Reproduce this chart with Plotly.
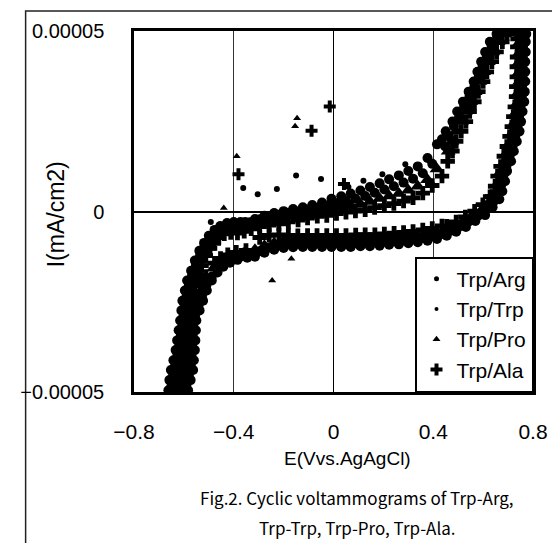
import plotly.graph_objects as go

SCALE = 1e-5  # current values below are read in units of 1e-5 mA/cm2

# ---------------- Trp/Arg (dense band) ----------------
arg_x = [-0.662, -0.658, -0.652, -0.642, -0.633, -0.627, -0.621, -0.615, -0.610, -0.606, -0.596, -0.587, -0.571, -0.556, -0.538, -0.519, -0.500, -0.477, -0.454, -0.427, -0.400, -0.373,
         -0.354, -0.315, -0.277, -0.238, -0.200, -0.162, -0.123, -0.085, -0.046, -0.008, 0.031, 0.069, 0.108, 0.146, 0.185, 0.223, 0.262, 0.300, 0.338, 0.377, 0.415,
         0.435, 0.450, 0.477, 0.496, 0.519, 0.542, 0.562, 0.577, 0.592, 0.608, 0.627, 0.654, 0.690, 0.730,
         0.773, 0.771, 0.771, 0.769, 0.769, 0.769, 0.767, 0.765, 0.758, 0.752, 0.746, 0.735, 0.723, 0.712, 0.696, 0.688, 0.677,
         0.665, 0.638, 0.608, 0.569, 0.531, 0.492,
         0.454, 0.415, 0.377, 0.338, 0.300, 0.262, 0.223, 0.185, 0.146, 0.108, 0.069, 0.031, -0.008, -0.046, -0.085, -0.123, -0.162, -0.200, -0.238, -0.277, -0.315,
         -0.346, -0.385, -0.415, -0.442, -0.465, -0.488, -0.508, -0.523, -0.537, -0.550, -0.552, -0.554, -0.556, -0.560, -0.563, -0.573, -0.583]
arg_y = [-4.95, -4.67, -4.39, -4.12, -3.84, -3.57, -3.29, -3.02, -2.74, -2.47, -2.19, -1.91, -1.64, -1.36, -1.09, -0.87, -0.67, -0.51, -0.40, -0.32, -0.29, -0.29,
         -0.29, -0.21, -0.12, -0.04, 0.01, 0.07, 0.12, 0.18, 0.25, 0.35, 0.42, 0.50, 0.58, 0.68, 0.78, 0.89, 1.00, 1.12, 1.25, 1.48, 1.86,
         2.00, 2.22, 2.49, 2.77, 3.04, 3.32, 3.60, 3.87, 4.15, 4.42, 4.70, 4.92, 5.00, 5.00,
         4.92, 4.70, 4.42, 4.15, 3.87, 3.60, 3.32, 3.04, 2.77, 2.49, 2.22, 1.94, 1.67, 1.39, 1.12, 0.84, 0.56,
         0.34, 0.12, -0.10, -0.26, -0.43, -0.56,
         -0.67, -0.76, -0.81, -0.85, -0.88, -0.91, -0.92, -0.95, -0.96, -0.96, -0.98, -0.98, -0.98, -0.98, -0.98, -0.98, -0.99, -1.01, -1.06, -1.14, -1.25,
         -1.28, -1.34, -1.42, -1.53, -1.69, -1.91, -2.19, -2.47, -2.74, -3.02, -3.29, -3.57, -3.84, -4.12, -4.39, -4.67, -4.95]
# Trp/Arg isolated points
arg_out_x = [-0.362, -0.304, -0.227, -0.150, -0.050, -0.492, 0.060, 0.120, 0.196, 0.288, 0.492]
arg_out_y = [0.65, 0.48, 0.62, 1.00, 0.90, -0.29, 0.68, 0.85, 1.03, 1.31, 2.77]

# ---------------- Trp/Trp (dense band) ----------------
trp_x = [-0.649, -0.643, -0.635, -0.626, -0.618, -0.612, -0.606, -0.601, -0.596, -0.589, -0.580, -0.567, -0.552, -0.535, -0.518, -0.500, -0.480, -0.457, -0.430, -0.402, -0.375, -0.335,
         -0.296, -0.258, -0.219, -0.181, -0.142, -0.104, -0.065, -0.027, 0.012, 0.050, 0.088, 0.127, 0.165, 0.204, 0.242, 0.281, 0.319, 0.358, 0.396,
         0.448, 0.463, 0.483, 0.504, 0.524, 0.545, 0.565, 0.583, 0.598, 0.615, 0.634, 0.656, 0.710,
         0.761, 0.760, 0.759, 0.758, 0.758, 0.756, 0.755, 0.750, 0.744, 0.738, 0.729, 0.718, 0.706, 0.693, 0.681, 0.671, 0.659,
         0.644, 0.615, 0.582, 0.545, 0.508, 0.470,
         0.435, 0.396, 0.358, 0.319, 0.281, 0.243, 0.204, 0.166, 0.127, 0.089, 0.050, 0.012, -0.027, -0.066, -0.104, -0.143, -0.181, -0.219, -0.258, -0.296,
         -0.335, -0.374, -0.408, -0.437, -0.461, -0.488, -0.510, -0.527, -0.541, -0.555, -0.563, -0.565, -0.567, -0.570, -0.573, -0.580, -0.590, -0.595]
trp_y = [-4.81, -4.53, -4.26, -3.98, -3.70, -3.43, -3.15, -2.88, -2.60, -2.33, -2.05, -1.77, -1.50, -1.22, -0.98, -0.82, -0.64, -0.51, -0.43, -0.37, -0.33, -0.30,
         -0.215, -0.145, -0.09, -0.045, 0.00, 0.055, 0.10, 0.16, 0.23, 0.29, 0.35, 0.43, 0.52, 0.61, 0.70, 0.80, 0.91, 1.06, 1.32,
         1.80, 2.08, 2.36, 2.63, 2.91, 3.18, 3.46, 3.73, 4.01, 4.28, 4.56, 4.81, 4.97,
         4.78, 4.56, 4.28, 4.01, 3.73, 3.46, 3.18, 2.90, 2.63, 2.35, 2.08, 1.80, 1.53, 1.25, 0.98, 0.70, 0.42,
         0.29, 0.07, -0.11, -0.27, -0.41, -0.53,
         -0.62, -0.69, -0.73, -0.77, -0.80, -0.82, -0.84, -0.86, -0.86, -0.87, -0.88, -0.88, -0.88, -0.88, -0.88, -0.89, -0.90, -0.94, -1.00, -1.10,
         -1.20, -1.25, -1.32, -1.42, -1.55, -1.80, -2.05, -2.33, -2.60, -2.88, -3.15, -3.43, -3.70, -3.98, -4.26, -4.53, -4.81, -5.00]

# ---------------- Trp/Pro (dense band) ----------------
pro_x = [-0.639, -0.635, -0.629, -0.619, -0.610, -0.604, -0.598, -0.592, -0.587, -0.583, -0.573, -0.564, -0.548, -0.533, -0.515, -0.503, -0.484, -0.461, -0.438, -0.411, -0.384, -0.357,
         -0.315, -0.277, -0.238, -0.200, -0.162, -0.123, -0.085, -0.046, -0.008, 0.031, 0.069, 0.108, 0.146, 0.185, 0.223, 0.262, 0.300, 0.338, 0.377, 0.415,
         0.460, 0.475, 0.491, 0.513, 0.529, 0.550, 0.568, 0.587, 0.602, 0.621, 0.639, 0.660, 0.682, 0.740,
         0.750, 0.748, 0.748, 0.746, 0.746, 0.746, 0.744, 0.742, 0.735, 0.729, 0.723, 0.712, 0.700, 0.689, 0.673, 0.665, 0.654,
         0.649, 0.622, 0.592, 0.553, 0.515, 0.476,
         0.454, 0.415, 0.377, 0.338, 0.300, 0.262, 0.223, 0.185, 0.146, 0.108, 0.069, 0.031, -0.008, -0.046, -0.085, -0.123, -0.162, -0.200, -0.238, -0.277, -0.315,
         -0.362, -0.401, -0.431, -0.458, -0.481, -0.511, -0.531, -0.546, -0.560, -0.573, -0.575, -0.577, -0.579, -0.583, -0.586, -0.596, -0.606]
pro_y = [-4.95, -4.67, -4.39, -4.12, -3.84, -3.57, -3.29, -3.02, -2.74, -2.47, -2.19, -1.91, -1.64, -1.36, -1.09, -0.98, -0.78, -0.62, -0.51, -0.43, -0.40, -0.37,
         -0.30, -0.26, -0.22, -0.17, -0.12, -0.08, -0.03, 0.02, 0.07, 0.11, 0.16, 0.21, 0.28, 0.36, 0.43, 0.50, 0.59, 0.70, 0.88, 1.18,
         1.67, 1.94, 2.22, 2.49, 2.77, 3.04, 3.32, 3.60, 3.87, 4.15, 4.42, 4.70, 4.92, 5.00,
         4.92, 4.70, 4.42, 4.15, 3.87, 3.60, 3.32, 3.04, 2.77, 2.49, 2.22, 1.94, 1.67, 1.39, 1.12, 0.84, 0.56,
         0.46, 0.24, 0.02, -0.14, -0.31, -0.44,
         -0.48, -0.57, -0.62, -0.66, -0.69, -0.72, -0.73, -0.76, -0.77, -0.77, -0.79, -0.79, -0.79, -0.79, -0.79, -0.79, -0.80, -0.82, -0.87, -0.95, -1.06,
         -1.16, -1.22, -1.30, -1.41, -1.57, -1.91, -2.19, -2.47, -2.74, -3.02, -3.29, -3.57, -3.84, -4.12, -4.39, -4.67, -4.95]
# Trp/Pro isolated points
pro_out_x = [-0.388, -0.146, -0.154, -0.440, -0.169, -0.246]
pro_out_y = [1.53, 2.58, 2.36, 0.10, -1.31, -1.91]

# ---------------- Trp/Ala (dense band) ----------------
ala_x = [-0.625, -0.620, -0.612, -0.603, -0.595, -0.589, -0.583, -0.578, -0.573, -0.566, -0.557, -0.544, -0.529, -0.512, -0.495, -0.480, -0.460, -0.438, -0.412, -0.385, -0.358, -0.330,
         -0.296, -0.258, -0.219, -0.181, -0.142, -0.104, -0.065, -0.027, 0.012, 0.050, 0.088, 0.127, 0.165, 0.204, 0.242, 0.281, 0.319, 0.358, 0.396, 0.435,
         0.458, 0.477, 0.492, 0.512, 0.531, 0.546, 0.565, 0.581, 0.600, 0.615, 0.635, 0.654, 0.677, 0.696,
         0.738, 0.737, 0.736, 0.735, 0.735, 0.733, 0.732, 0.727, 0.721, 0.715, 0.706, 0.695, 0.683, 0.670, 0.658, 0.648, 0.636,
         0.628, 0.599, 0.566, 0.529, 0.492, 0.454,
         0.435, 0.396, 0.358, 0.319, 0.281, 0.243, 0.204, 0.166, 0.127, 0.089, 0.050, 0.012, -0.027, -0.066, -0.104, -0.143, -0.181, -0.219, -0.258, -0.296,
         -0.351, -0.390, -0.424, -0.453, -0.477, -0.512, -0.534, -0.551, -0.565, -0.579, -0.587, -0.589, -0.591, -0.594, -0.597, -0.603, -0.610]
ala_y = [-4.81, -4.53, -4.26, -3.98, -3.70, -3.43, -3.15, -2.88, -2.60, -2.33, -2.05, -1.77, -1.50, -1.22, -1.02, -0.88, -0.72, -0.62, -0.58, -0.60, -0.55, -0.48,
         -0.42, -0.38, -0.34, -0.29, -0.24, -0.18, -0.135, -0.11, -0.06, -0.02, 0.01, 0.05, 0.11, 0.165, 0.22, 0.29, 0.38, 0.51, 0.72, 0.98,
         1.39, 1.67, 1.94, 2.22, 2.49, 2.77, 3.04, 3.32, 3.60, 3.87, 4.15, 4.42, 4.70, 4.92,
         4.78, 4.56, 4.28, 4.01, 3.73, 3.46, 3.18, 2.90, 2.63, 2.35, 2.08, 1.80, 1.53, 1.25, 0.98, 0.70, 0.42,
         0.41, 0.19, 0.01, -0.15, -0.29, -0.41,
         -0.40, -0.47, -0.51, -0.55, -0.58, -0.60, -0.62, -0.64, -0.64, -0.65, -0.66, -0.66, -0.66, -0.66, -0.66, -0.67, -0.66, -0.65, -0.66, -0.72,
         -1.08, -1.13, -1.20, -1.30, -1.43, -1.80, -2.05, -2.33, -2.60, -2.88, -3.15, -3.43, -3.70, -3.98, -4.26, -4.53, -4.81]
# Trp/Ala isolated points
ala_out_x = [-0.015, -0.088, -0.381, 0.042]
ala_out_y = [2.91, 2.24, 1.03, 0.76]

# ---------------- axes / labels ----------------
x_tick_vals = [-0.8, -0.4, 0, 0.4, 0.8]
x_tick_text = ["\u22120.8", "\u22120.4", "0", "0.4", "0.8"]
y_tick_vals = [-5e-5, 0, 5e-5]
y_tick_text = ["\u22120.00005", "0", "0.00005"]
series_names = ["Trp/Arg", "Trp/Trp", "Trp/Pro", "Trp/Ala"]
caption_lines = ["Fig.2. Cyclic voltammograms of Trp-Arg,", "Trp-Trp, Trp-Pro, Trp-Ala."]

symbols = ["circle", "circle", "triangle-up", "cross"]
band_sizes = [10, 10, 13, 12]
out_sizes = [6, 4, 7, 10]
legend_sizes = [5, 4, 7, 10]
bands = [(arg_x, arg_y), (trp_x, trp_y), (pro_x, pro_y), (ala_x, ala_y)]
outs = [(arg_out_x, arg_out_y), ([], []), (pro_out_x, pro_out_y), (ala_out_x, ala_out_y)]

FONT = "Liberation Sans, Arial, sans-serif"
fig = go.Figure()

for i, name in enumerate(series_names):
    bx, by = bands[i]
    fig.add_trace(go.Scatter(
        x=bx, y=[v * SCALE for v in by], mode="markers", name=name,
        legendgroup=name, showlegend=False,
        marker=dict(symbol=symbols[i], size=band_sizes[i], color="black", line=dict(width=0)),
    ))
for i, name in enumerate(series_names):
    ox, oy = outs[i]
    if ox:
        fig.add_trace(go.Scatter(
            x=ox, y=[v * SCALE for v in oy], mode="markers", name=name,
            legendgroup=name, showlegend=False,
            marker=dict(symbol=symbols[i], size=out_sizes[i], color="black", line=dict(width=0)),
        ))
# legend entries
for i, name in enumerate(series_names):
    fig.add_trace(go.Scatter(
        x=[None], y=[None], mode="markers", name=name, legendgroup=name, showlegend=True,
        marker=dict(symbol=symbols[i], size=legend_sizes[i], color="black", line=dict(width=0)),
    ))

# The page body adds an 8 px offset, so the figure is laid out 8 px smaller
fig.update_layout(
    width=552, height=535,
    margin=dict(l=116, r=20, t=21, b=151),
    paper_bgcolor="white", plot_bgcolor="white",
    font=dict(family=FONT, color="black"),
    showlegend=True,
    legend=dict(
        x=1, y=0, xanchor="right", yanchor="bottom",
        bgcolor="white", bordercolor="black", borderwidth=1.5,
        font=dict(family=FONT, size=21, color="black"),
        itemwidth=30, tracegroupgap=0,
    ),
    xaxis=dict(
        range=[-0.8, 0.8], tickvals=x_tick_vals, ticktext=x_tick_text,
        showgrid=True, gridcolor="#333333", gridwidth=1,
        zeroline=True, zerolinecolor="black", zerolinewidth=1.2,
        showline=True, linecolor="black", linewidth=2.5, mirror=True,
        ticks="", tickfont=dict(family=FONT, size=21, color="black"),
        ticklabelstandoff=19,
    ),
    yaxis=dict(
        range=[-5e-5, 5e-5], tickvals=y_tick_vals, ticktext=y_tick_text,
        showgrid=False,
        zeroline=True, zerolinecolor="black", zerolinewidth=1.5,
        showline=True, linecolor="black", linewidth=2.5, mirror=True,
        ticks="", tickfont=dict(family=FONT, size=20, color="black"),
        ticklabelstandoff=23,
    ),
    annotations=[
        dict(text="I(mA/cm2)", x=(43 - 124) / 416, y=(392 - 213) / 363,
             xref="paper", yref="paper", showarrow=False, textangle=-90,
             xanchor="center", yanchor="middle",
             font=dict(family=FONT, size=23, color="black")),
        dict(text="E(Vvs.AgAgCl)", x=(347 - 124) / 416, y=(392 - 459) / 363,
             xref="paper", yref="paper", showarrow=False,
             xanchor="center", yanchor="middle",
             font=dict(family=FONT, size=19, color="black")),
        dict(text=caption_lines[0], x=(357 - 124) / 416, y=(392 - 498) / 363,
             xref="paper", yref="paper", showarrow=False,
             xanchor="center", yanchor="middle",
             font=dict(family="Noto Sans CJK JP, " + FONT, size=17, color="black")),
        dict(text=caption_lines[1], x=(357 - 124) / 416, y=(392 - 528) / 363,
             xref="paper", yref="paper", showarrow=False,
             xanchor="center", yanchor="middle",
             font=dict(family="Noto Sans CJK JP, " + FONT, size=17, color="black")),
    ],
    shapes=[
        dict(type="rect", xref="paper", yref="paper",
             x0=(11 - 124) / 416, x1=1.2, y0=-0.6, y1=(392 - 9) / 363,
             line=dict(color="#222222", width=1.5), layer="below"),
    ],
)

fig.write_html("out.html")
